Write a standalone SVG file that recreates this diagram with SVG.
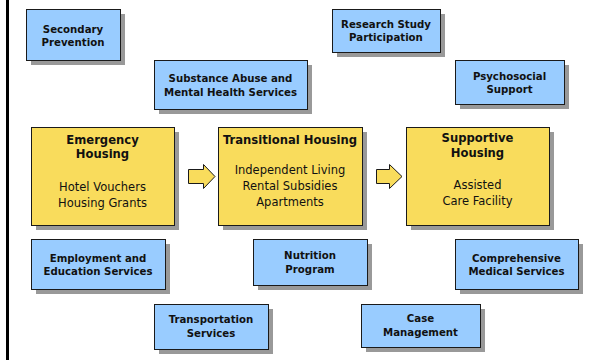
<svg xmlns="http://www.w3.org/2000/svg" width="591" height="360" viewBox="0 0 591 360">
<style>
.sh{fill:#999999}
.b{fill:#99CCFF;stroke:#1a1a1a;stroke-width:1}
.y{fill:#F9DC5C;stroke:#1a1a1a;stroke-width:1}
.lb{font-family:"DejaVu Sans",Verdana,sans-serif;font-weight:bold;font-size:10.2px;fill:#111;text-anchor:middle}
.hd{font-family:"DejaVu Sans",Verdana,sans-serif;font-weight:bold;font-size:11.6px;fill:#111;text-anchor:middle}
.rg{font-family:"DejaVu Sans",Verdana,sans-serif;font-size:11.5px;fill:#111;text-anchor:middle}
</style>
<rect width="591" height="360" fill="#ffffff"/>
<rect x="6" y="0" width="3" height="360" fill="#000000"/>
<g id="secondary-prevention">
<rect class="sh" x="31" y="14" width="94" height="51"/>
<rect class="b" x="26.5" y="9.5" width="94" height="51"/>
<text class="lb" x="73" y="33.3">Secondary</text>
<text class="lb" x="73" y="46">Prevention</text>
</g>
<g id="substance-abuse">
<rect class="sh" x="159" y="65" width="153" height="49"/>
<rect class="b" x="154.5" y="60.5" width="153" height="49"/>
<text class="lb" x="230.5" y="82.3">Substance Abuse and</text>
<text class="lb" x="230.5" y="96">Mental Health Services</text>
</g>
<g id="research-study">
<rect class="sh" x="337" y="14" width="108" height="43"/>
<rect class="b" x="332.5" y="9.5" width="108" height="43"/>
<text class="lb" x="386" y="28.3">Research Study</text>
<text class="lb" x="386" y="40.7">Participation</text>
</g>
<g id="psychosocial-support">
<rect class="sh" x="460" y="65" width="109" height="44"/>
<rect class="b" x="455.5" y="60.5" width="109" height="44"/>
<text class="lb" x="509.5" y="80">Psychosocial</text>
<text class="lb" x="509.5" y="93.3">Support</text>
</g>
<g id="emergency-housing">
<rect class="sh" x="36" y="132" width="143" height="98"/>
<rect class="y" x="31.5" y="127.5" width="143" height="98"/>
<text class="hd" x="102.5" y="144.3">Emergency</text>
<text class="hd" x="102.5" y="158.3">Housing</text>
<text class="rg" x="102.5" y="191">Hotel Vouchers</text>
<text class="rg" x="102.5" y="206.7">Housing Grants</text>
</g>
<g id="transitional-housing">
<rect class="sh" x="223" y="132" width="144" height="98"/>
<rect class="y" x="218.5" y="127.5" width="144" height="98"/>
<text class="hd" x="290" y="144">Transitional Housing</text>
<text class="rg" x="290" y="174.3">Independent Living</text>
<text class="rg" x="290" y="190">Rental Subsidies</text>
<text class="rg" x="290" y="205.7">Apartments</text>
</g>
<g id="supportive-housing">
<rect class="sh" x="411" y="132" width="143" height="98"/>
<rect class="y" x="406.5" y="127.5" width="143" height="98"/>
<text class="hd" x="477.5" y="141.7">Supportive</text>
<text class="hd" x="477.5" y="157.3">Housing</text>
<text class="rg" x="477.5" y="189">Assisted</text>
<text class="rg" x="477.5" y="205">Care Facility</text>
</g>
<g id="employment-education">
<rect class="sh" x="36" y="244" width="134" height="50"/>
<rect class="b" x="31.5" y="239.5" width="134" height="50"/>
<text class="lb" x="98" y="262.3">Employment and</text>
<text class="lb" x="98" y="275">Education Services</text>
</g>
<g id="nutrition-program">
<rect class="sh" x="258" y="244" width="114" height="46"/>
<rect class="b" x="253.5" y="239.5" width="114" height="46"/>
<text class="lb" x="310" y="259">Nutrition</text>
<text class="lb" x="310" y="272.7">Program</text>
</g>
<g id="comprehensive-medical">
<rect class="sh" x="460" y="244" width="123" height="50"/>
<rect class="b" x="455.5" y="239.5" width="123" height="50"/>
<text class="lb" x="516.5" y="262.3">Comprehensive</text>
<text class="lb" x="516.5" y="275">Medical Services</text>
</g>
<g id="transportation-services">
<rect class="sh" x="159" y="309" width="114" height="45"/>
<rect class="b" x="154.5" y="304.5" width="114" height="45"/>
<text class="lb" x="211" y="323.3">Transportation</text>
<text class="lb" x="211" y="337.3">Services</text>
</g>
<g id="case-management">
<rect class="sh" x="366" y="309" width="119" height="43"/>
<rect class="b" x="361.5" y="304.5" width="119" height="43"/>
<text class="lb" x="420.5" y="322">Case</text>
<text class="lb" x="420.5" y="336">Management</text>
</g>
<g id="connectors">
<polygon class="y" points="188.5,169.5 203.5,169.5 203.5,164.5 215,176.5 203.5,188.5 203.5,183.5 188.5,183.5"/>
<polygon class="y" points="376.5,169.5 389.5,169.5 389.5,164.5 402,176.5 389.5,188.5 389.5,183.5 376.5,183.5"/>
</g>
</svg>
